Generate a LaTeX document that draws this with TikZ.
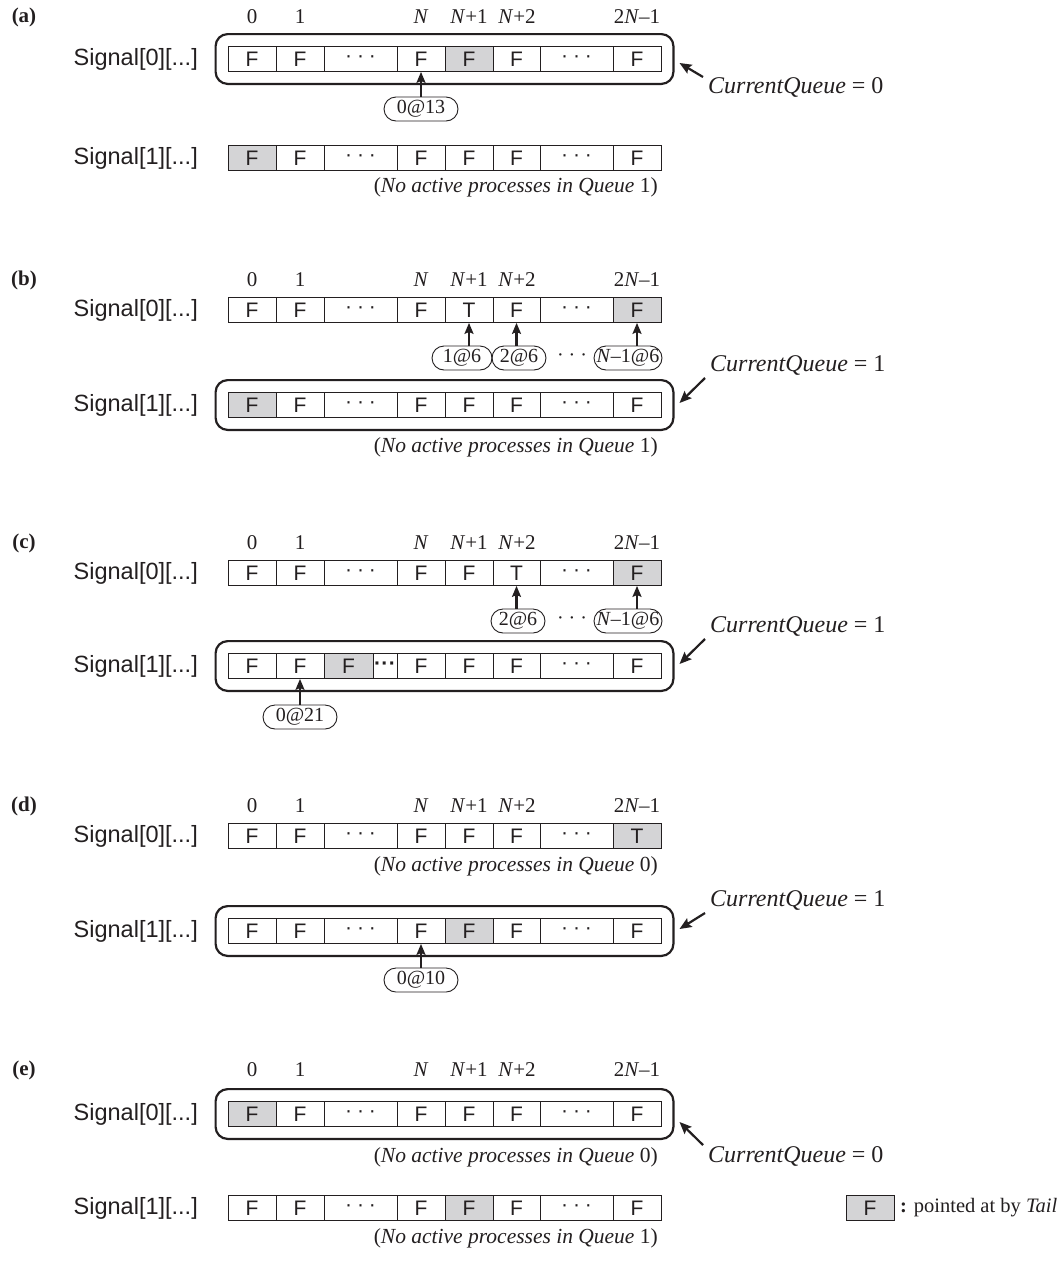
\documentclass[tikz,border=0pt]{standalone}
\usepackage{fontspec}
\setmainfont{Liberation Serif}
\setsansfont{Liberation Sans}
\usetikzlibrary{arrows.meta,fit,calc}
\newcommand{\cdd}{\textperiodcentered\hspace{5pt}\textperiodcentered\hspace{5pt}\textperiodcentered}
\newcommand{\cdt}{\textbf{\textperiodcentered\hspace{0.5pt}\textperiodcentered\hspace{0.5pt}\textperiodcentered}}
\definecolor{tailgray}{RGB}{212,212,214}
\definecolor{ink}{RGB}{35,31,32}
\tikzset{
 cellbox/.style={draw=ink, line width=0.8pt, minimum height=25pt, inner sep=0pt, font=\sffamily\fontsize{21}{21}\selectfont, text=ink},
 qbox/.style={draw=ink, line width=2.2pt, rounded corners=12pt, inner xsep=12pt, inner ysep=12pt},
 pill/.style={draw=ink, line width=0.9pt, rounded corners=12pt, minimum height=24pt, inner xsep=2pt, inner ysep=0pt, text=ink, font=\fontsize{20}{21}\selectfont},
 ptr/.style={-{Stealth[length=11pt,width=9pt,inset=2pt]}, line width=2.2pt, draw=ink},
 cqarr/.style={-{Stealth[length=12pt,width=10pt,inset=2pt]}, line width=2.2pt, draw=ink},
 idx/.style={font=\fontsize{21}{21}\selectfont, text=ink, inner sep=0pt},
 sig/.style={font=\sffamily\fontsize{23.5}{24}\selectfont, text=ink, anchor=east, inner sep=0pt},
 plabel/.style={font=\bfseries\fontsize{21}{21}\selectfont, text=ink, inner sep=0pt},
 note/.style={font=\fontsize{21.5}{22}\selectfont, text=ink, anchor=east, inner sep=0pt},
 cq/.style={font=\fontsize{24}{24}\selectfont, text=ink, anchor=west, inner sep=0pt},
 dotsnode/.style={font=\fontsize{20}{21}\selectfont, text=ink, inner sep=0pt},
}
% generic row: prefix, y, lefts, rights, cells
\newcommand{\qrow}[5]{%
 \foreach \t/\f [count=\i] in {#5} {
   \pgfmathsetmacro\xl{{#3}[\i-1]}
   \pgfmathsetmacro\xr{{#4}[\i-1]}
   \node[cellbox, fill=\f, minimum width={\xr-\xl}] (#1-\i) at ({(\xl+\xr)/2}, #2) {\t};
 }}
\newcommand{\qrowstd}[3]{\qrow{#1}{#2}{228,276,324,397,445,493,540,613}{276,324,397,445,493,540,613,661}{#3}}
% index labels: prefix, y
\newcommand{\idxrow}[2]{%
 \node[idx] (#1-0) at (252,#2) {0};
 \node[idx] (#1-1) at (300,#2) {1};
 \node[idx] (#1-2) at (421,#2) {\textit{N}};
 \node[idx] (#1-3) at (469,#2) {\textit{N}+1};
 \node[idx] (#1-4) at (517,#2) {\textit{N}+2};
 \node[idx] (#1-5) at (637,#2) {2\textit{N}\textendash 1};
}
\begin{document}
\begin{tikzpicture}[x=1pt,y=-1pt]
\useasboundingbox[fill=white] (0,0) rectangle (1064,1264);

% ---------------- (a)
\node[plabel] (la) at (24,17) {(a)};
\idxrow{ia}{17}
\node[sig] (sa0) at (198,59) {Signal[0][...]};
\qrowstd{a0}{59}{F/white,F/white,\cdd/white,F/white,F/tailgray,F/white,\cdd/white,F/white}
\node[qbox, fit=(a0-1)(a0-8)] (qa) {};
\node[pill, minimum width=74pt] (pa) at (421,109) {0@13};
\draw[ptr] (a0-4.south |- pa.north) -- (a0-4.south);
\node[cq] (cqa) at (708,87) {\textit{CurrentQueue} = 0};
\coordinate (cqas) at (703,77);
\draw[cqarr] (cqas) -- ([xshift=5pt,yshift=-4pt]qa.east);
\node[sig] (sa1) at (198,158) {Signal[1][...]};
\qrowstd{a1}{158}{F/tailgray,F/white,\cdd/white,F/white,F/white,F/white,\cdd/white,F/white}
\node[note] (na) at (658,187) {(\textit{No active processes in Queue} 1)};

% ---------------- (b)
\node[plabel] (lb) at (24,280) {(b)};
\idxrow{ib}{280}
\node[sig] (sb0) at (198,310) {Signal[0][...]};
\qrowstd{b0}{310}{F/white,F/white,\cdd/white,F/white,T/white,F/white,\cdd/white,F/tailgray}
\node[pill, minimum width=60pt] (pb1) at (462,358) {1@6};
\node[pill, minimum width=54pt] (pb2) at (519,358) {2@6};
\node[dotsnode] (pbd) at (572,358) {\cdd};
\node[pill, minimum width=68pt] (pb3) at (628,358) {\textit{N}\textendash 1@6};
\draw[ptr] (b0-5.south |- pb1.north) -- (b0-5.south);
\draw[ptr] (b0-6.south |- pb2.north) -- (b0-6.south);
\draw[ptr] (b0-8.south |- pb3.north) -- (b0-8.south);
\node[sig] (sb1) at (198,405) {Signal[1][...]};
\qrowstd{b1}{405}{F/tailgray,F/white,\cdd/white,F/white,F/white,F/white,\cdd/white,F/white}
\node[qbox, fit=(b1-1)(b1-8)] (qb) {};
\node[cq] (cqb) at (710,365) {\textit{CurrentQueue} = 1};
\coordinate (cqbs) at (705,378);
\draw[cqarr] (cqbs) -- ([xshift=5pt,yshift=2pt]qb.east);
\node[note] (nb) at (658,447) {(\textit{No active processes in Queue} 1)};

% ---------------- (c)
\node[plabel] (lc) at (24,543) {(c)};
\idxrow{ic}{543}
\node[sig] (sc0) at (198,573) {Signal[0][...]};
\qrowstd{c0}{573}{F/white,F/white,\cdd/white,F/white,F/white,T/white,\cdd/white,F/tailgray}
\node[pill, minimum width=54pt] (pc2) at (518,621) {2@6};
\node[dotsnode] (pcd) at (572,621) {\cdd};
\node[pill, minimum width=68pt] (pc3) at (628,621) {\textit{N}\textendash 1@6};
\draw[ptr] (c0-6.south |- pc2.north) -- (c0-6.south);
\draw[ptr] (c0-8.south |- pc3.north) -- (c0-8.south);
\node[sig] (sc1) at (198,666) {Signal[1][...]};
\qrow{c1}{666}{228,276,324,373,397,445,493,540,613}{276,324,373,397,445,493,540,613,661}{F/white,F/white,F/tailgray,\cdt/white,F/white,F/white,F/white,\cdd/white,F/white}
\node[qbox, fit=(c1-1)(c1-9)] (qc) {};
\node[cq] (cqc) at (710,626) {\textit{CurrentQueue} = 1};
\coordinate (cqcs) at (705,639);
\draw[cqarr] (cqcs) -- ([xshift=5pt,yshift=2pt]qc.east);
\node[pill, minimum width=74pt] (pc0) at (300,717) {0@21};
\draw[ptr] (c1-2.south |- pc0.north) -- (c1-2.south);

% ---------------- (d)
\node[plabel] (ld) at (24,806) {(d)};
\idxrow{id}{806}
\node[sig] (sd0) at (198,836) {Signal[0][...]};
\qrowstd{d0}{836}{F/white,F/white,\cdd/white,F/white,F/white,F/white,\cdd/white,T/tailgray}
\node[note] (nd) at (658,866) {(\textit{No active processes in Queue} 0)};
\node[sig] (sd1) at (198,931) {Signal[1][...]};
\qrowstd{d1}{931}{F/white,F/white,\cdd/white,F/white,F/tailgray,F/white,\cdd/white,F/white}
\node[qbox, fit=(d1-1)(d1-8)] (qd) {};
\node[cq] (cqd) at (710,900) {\textit{CurrentQueue} = 1};
\coordinate (cqds) at (705,913);
\draw[cqarr] (cqds) -- ([xshift=5pt,yshift=2pt]qd.east);
\node[pill, minimum width=74pt] (pd0) at (421,980) {0@10};
\draw[ptr] (d1-4.south |- pd0.north) -- (d1-4.south);

% ---------------- (e)
\node[plabel] (le) at (24,1070) {(e)};
\idxrow{ie}{1070}
\node[sig] (se0) at (198,1114) {Signal[0][...]};
\qrowstd{e0}{1114}{F/tailgray,F/white,\cdd/white,F/white,F/white,F/white,\cdd/white,F/white}
\node[qbox, fit=(e0-1)(e0-8)] (qe) {};
\node[note] (ne0) at (658,1157) {(\textit{No active processes in Queue} 0)};
\node[cq] (cqe) at (708,1156) {\textit{CurrentQueue} = 0};
\coordinate (cqes) at (703,1145);
\draw[cqarr] (cqes) -- ([xshift=5pt,yshift=-8pt]qe.east);
\node[sig] (se1) at (198,1208) {Signal[1][...]};
\qrowstd{e1}{1208}{F/white,F/white,\cdd/white,F/white,F/tailgray,F/white,\cdd/white,F/white}
\node[note] (ne1) at (658,1238) {(\textit{No active processes in Queue} 1)};

% legend
\node[cellbox, fill=tailgray, minimum width=48pt] (lg) at (870,1208) {F};
\node[font=\fontsize{20.5}{21}\selectfont, text=ink, anchor=west, inner sep=0pt] (lgt) at (900,1208) {\textbf{:} pointed at by \textit{Tail}};
\end{tikzpicture}
\end{document}
